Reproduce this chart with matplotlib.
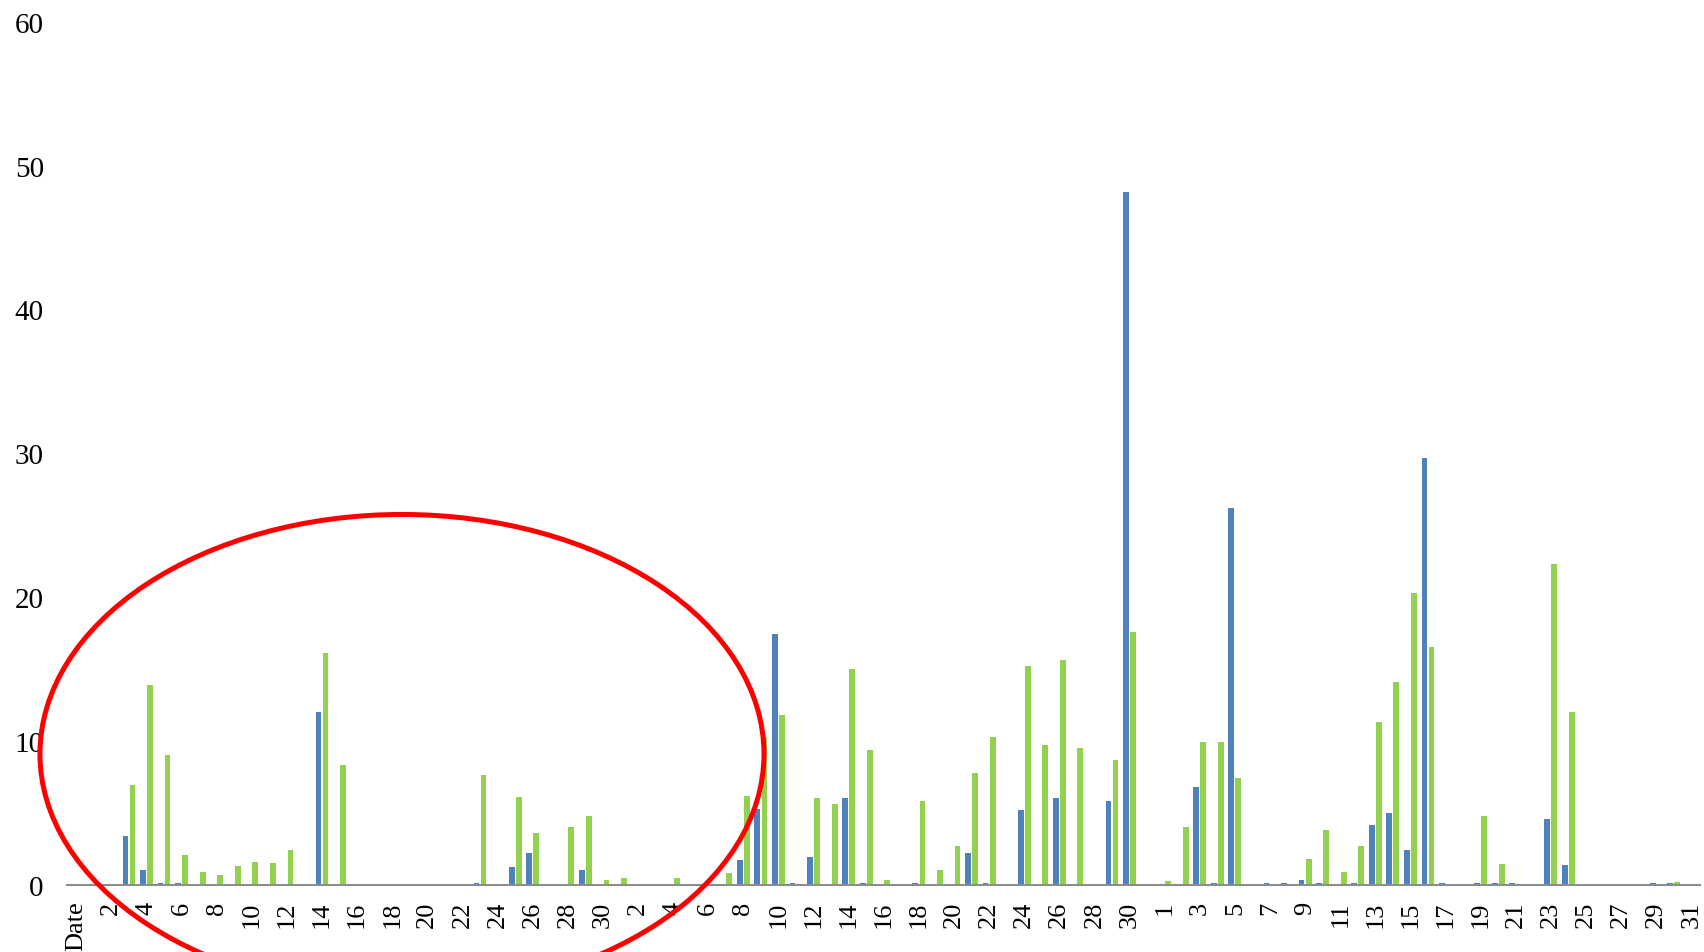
import matplotlib
matplotlib.use("Agg")
import matplotlib.pyplot as plt
import numpy as np
from matplotlib.patches import Ellipse

plt.rcParams['font.family'] = ['Liberation Serif', 'DejaVu Serif']

# day labels: June (30 days), July (31), August (31)
june_days = list(range(1, 31))
july_days = list(range(1, 32))
aug_days = list(range(1, 32))
labels = ['Date'] + [str(d) for d in june_days + july_days + aug_days]

# blue series
june_blue = [0, 0, 3.4, 1.0, 0.15, 0.15, 0, 0, 0, 0, 0, 0, 0, 12.0, 0,
             0, 0, 0, 0, 0, 0, 0, 0.15, 0, 1.2, 2.2, 0, 0, 1.0, 0]
july_blue = [0, 0, 0, 0, 0, 0, 0, 1.7, 5.3, 17.4, 0.15, 1.95, 0, 6.0, 0.15,
             0, 0, 0.15, 0, 0, 2.2, 0.15, 0, 5.2, 0, 6.0, 0, 0, 5.8, 48.2, 0]
aug_blue = [0, 0, 6.8, 0.15, 26.2, 0, 0.15, 0.15, 0.35, 0.15, 0, 0.15, 4.15, 5.0, 2.4,
            29.7, 0.15, 0, 0.15, 0.15, 0.15, 0, 4.6, 1.35, 0, 0, 0, 0, 0.15, 0.15, 0]

# green series
june_green = [0, 0, 6.9, 13.9, 9.0, 2.1, 0.9, 0.7, 1.3, 1.6, 1.5, 2.4, 0, 16.1, 8.3,
              0, 0, 0, 0, 0, 0, 0, 7.6, 0, 6.1, 3.6, 0, 4.0, 4.8, 0.3]
july_green = [0.45, 0, 0, 0.45, 0, 0, 0.8, 6.2, 10.3, 11.8, 0, 6.0, 5.6, 15.0, 9.4,
              0.3, 0, 5.8, 1.0, 2.7, 7.8, 10.3, 0, 15.2, 9.7, 15.6, 9.5, 0, 8.7, 17.6, 0]
aug_green = [0.28, 4.0, 9.95, 9.9, 7.4, 0, 0, 0, 1.8, 3.8, 0.86, 2.7, 11.3, 14.1, 20.3,
             16.5, 0, 0, 4.8, 1.45, 0, 0, 22.3, 12.0, 0, 0, 0, 0, 0, 0.2, 0]

blue = [0] + june_blue + july_blue + aug_blue
green = [0] + june_green + july_green + aug_green
x = np.arange(len(labels))

fig = plt.figure(figsize=(17.04, 9.53), dpi=100)
ax = fig.add_axes([0.0396, 0.0706, 0.9581, 0.9054])

ax.bar(x - 0.2, blue, width=0.33, color='#4F81BD', linewidth=0)
ax.bar(x + 0.2, green, width=0.33, color='#92D050', linewidth=0)

ax.set_xlim(-0.5, len(labels) - 0.5)
ax.set_ylim(0, 60)
ax.set_yticks(range(0, 61, 10))
ax.set_xticks(x[::2])
ax.set_xticklabels(labels[::2], rotation=90)
ax.tick_params(axis='both', length=0)
ax.tick_params(axis='y', pad=17, labelsize=21)
ax.tick_params(axis='x', pad=11.5, labelsize=19)

for s in ['top', 'right', 'left']:
    ax.spines[s].set_visible(False)
ax.spines['bottom'].set_color('#8C8C8C')
ax.spines['bottom'].set_linewidth(1.5)

# red circle drawn over the first part of the chart
fig.add_artist(Ellipse((0.2359, 0.2078), 0.4249, 0.5026, transform=fig.transFigure,
                       fill=False, edgecolor='red', linewidth=3.6, clip_on=False))

fig.savefig('out.png', dpi=100)
